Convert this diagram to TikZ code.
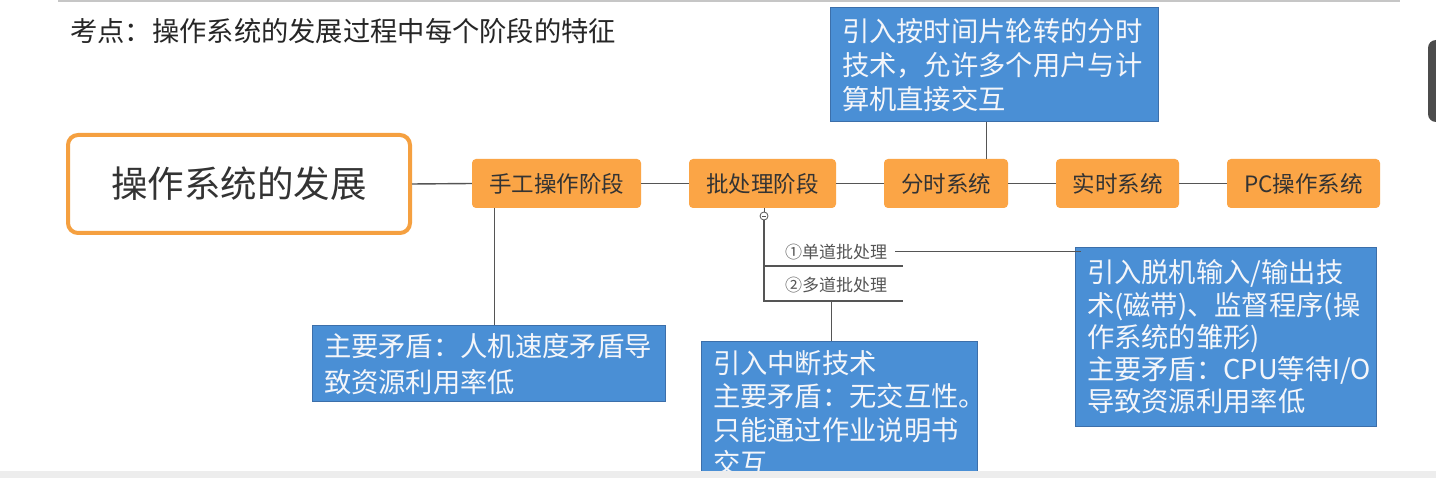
\documentclass[tikz,border=0pt]{standalone}
\usepackage{fontspec}
\setmainfont{Noto Sans CJK SC}
\usetikzlibrary{calc}
\definecolor{orangeF}{HTML}{FBA546}
\definecolor{orangeB}{HTML}{F5A040}
\definecolor{blueF}{HTML}{4A8FD5}
\definecolor{blueB}{HTML}{3C6FAA}
\definecolor{blueT}{HTML}{F4F6FA}
\definecolor{lineC}{HTML}{555555}
\definecolor{textC}{HTML}{333333}
\tikzset{
  stagebox/.style={fill=orangeF, rounded corners=4pt, inner sep=0pt,
    minimum height=49pt, text=textC, font=\fontsize{22.5}{25}\selectfont},
  notebox/.style={fill=blueF, draw=blueB, line width=1pt, inner xsep=12pt,
    inner ysep=0pt, align=left, text=blueT},
  conn/.style={draw=lineC, line width=1.4pt},
  thin/.style={draw=lineC, line width=1pt},
  lbl/.style={text=lineC, font=\fontsize{17}{19}\selectfont, inner sep=2pt}
}
\begin{document}
\begin{tikzpicture}[x=1pt,y=-1pt]
\useasboundingbox (0,0) rectangle (1436,478);
\clip (0,0) rectangle (1436,478);
\fill[white] (0,0) rectangle (1436,478);
\draw[gray!45, line width=1.5pt] (58,1) -- (1400,1);

\node[anchor=west, text=black!85, inner sep=0pt, font=\fontsize{27.3}{29}\selectfont] (title) at (70,31) {考点：操作系统的发展过程中每个阶段的特征};

\node[draw=orangeB, line width=4pt, fill=white, rounded corners=10pt,
      minimum width=342pt, minimum height=98pt, inner sep=0pt,
      text=textC, font=\fontsize{36.5}{39}\selectfont] (root) at (239,184) {操作系统的发展};

\node[stagebox, minimum width=169pt] (s1) at (556.5,183.5) {手工操作阶段};
\node[stagebox, minimum width=147pt] (s2) at (762.5,183.5) {批处理阶段};
\node[stagebox, minimum width=124pt] (s3) at (946,183.5) {分时系统};
\node[stagebox, minimum width=123pt] (s4) at (1117.5,183.5) {实时系统};
\node[stagebox, minimum width=153pt] (s5) at (1303.5,183.5) {PC操作系统};

\draw[conn] (root.east) -- (s1.west);
\draw[conn] (s1.east) -- (s2.west);
\draw[conn] (s2.east) -- (s3.west);
\draw[conn] (s3.east) -- (s4.west);
\draw[conn] (s4.east) -- (s5.west);

\node[notebox, text width=329pt, minimum width=353pt, minimum height=76pt,
      font=\fontsize{27.3}{36}\selectfont] (b1) at (488.5,364)
  {主要矛盾：人机速度矛盾导\\致资源利用率低};
\node[notebox, text width=252pt, minimum width=276pt, minimum height=142pt,
      font=\fontsize{27.3}{33.5}\selectfont] (b2) at (839,413)
  {引入中断技术\\主要矛盾：无交互性。\\只能通过作业说明书\\交互};
\node[notebox, text width=277pt, minimum width=301pt, minimum height=178pt,
      font=\fontsize{27.3}{32.3}\selectfont] (b3) at (1225.5,337)
  {引入脱机输入/输出技\\术(磁带)、监督程序(操\\作系统的雏形)\\主要矛盾：CPU等待I/O\\导致资源利用率低};
\node[notebox, text width=304pt, minimum width=328pt, minimum height=114pt,
      font=\fontsize{27.3}{34}\selectfont] (b4) at (994,65)
  {引入按时间片轮转的分时\\技术，允许多个用户与计\\算机直接交互};

% manual stage -> note
\draw[thin] ([xshift=23pt]s1.south west) -- ([xshift=23pt]s1.south west |- b1.north);
% time sharing -> note
\draw[thin] ([xshift=-8pt]b4.south) -- ([xshift=-8pt]b4.south |- s3.north);

% batch subtree
\node[circle, draw=lineC, fill=white, line width=0.8pt, minimum size=8pt, inner sep=0pt] (fold) at (764,216) {};
\draw[lineC, line width=0.8pt] ([xshift=-2.2pt]fold.center) -- ([xshift=2.2pt]fold.center);
\draw[thin] (s2.south -| fold.north) -- (fold.north);
\node[lbl] (l1) at (836,252) {①单道批处理};
\node[lbl] (l2) at (836,285) {②多道批处理};
\coordinate (h1) at (903,266);
\coordinate (h2) at (903,301);
\draw[thin, line width=1.4pt] (fold.south) |- (h2);
\draw[thin, line width=1.4pt] (fold.south |- h1) -- (h1);
\draw[thin] ([xshift=6pt]l1.east) -- ([xshift=6pt]l1.east -| b3.west);
\draw[thin] ([xshift=-8pt]b2.north |- h2) -- ([xshift=-8pt]b2.north);

% screen overlay details
\fill[black!70, rounded corners=8pt] (1428,40) rectangle (1450,122);
\fill[black!7] (0,471) rectangle (1436,478);
\end{tikzpicture}
\end{document}
